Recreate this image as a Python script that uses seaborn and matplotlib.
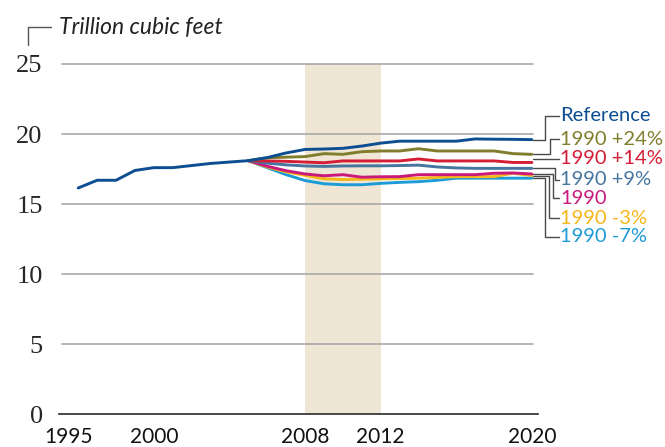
import numpy as np
import pandas as pd
import matplotlib
matplotlib.use("Agg")
import matplotlib.pyplot as plt
import matplotlib.transforms as mtransforms
from matplotlib.lines import Line2D
import seaborn as sns

sns.set_style("white")

# --- data ---
ref_years = list(range(1996, 2021))
reference = [16.15, 16.7, 16.7, 17.4, 17.6, 17.6, 17.75, 17.9, 18.0, 18.1,
             18.32, 18.65, 18.9, 18.93, 18.98, 19.14, 19.35, 19.49, 19.49,
             19.49, 19.49, 19.65, 19.63, 19.62, 19.6]

case_years = list(range(2005, 2021))
plus24 = [18.1, 18.3, 18.35, 18.39, 18.6, 18.55, 18.74, 18.79, 18.79, 18.95,
          18.79, 18.79, 18.79, 18.79, 18.6, 18.55]
plus14 = [18.1, 18.08, 18.05, 18.0, 17.95, 18.08, 18.08, 18.08, 18.08, 18.22,
          18.08, 18.08, 18.08, 18.08, 17.97, 17.97]
plus9 = [18.1, 17.92, 17.8, 17.72, 17.69, 17.72, 17.73, 17.73, 17.75, 17.78,
         17.65, 17.58, 17.55, 17.55, 17.55, 17.55]
level1990 = [18.1, 17.7, 17.38, 17.15, 17.02, 17.1, 16.92, 16.95, 16.96, 17.1,
             17.1, 17.1, 17.1, 17.2, 17.22, 17.15]
minus3 = [18.1, 17.65, 17.3, 17.05, 16.8, 16.75, 16.78, 16.8, 16.82, 16.85,
          16.9, 16.96, 16.96, 16.96, 17.2, 17.04]
minus7 = [18.1, 17.6, 17.1, 16.68, 16.45, 16.38, 16.38, 16.48, 16.55, 16.6,
          16.7, 16.85, 16.85, 16.85, 16.85, 16.85]

labels = ["Reference", "1990 +24%", "1990 +14%", "1990 +9%", "1990",
          "1990 -3%", "1990 -7%"]
colors = ["#0d4d92", "#807d2c", "#d51d35", "#4675a0", "#c91a7c",
          "#f5b719", "#1c9bd6"]
label_y = [21.29, 19.63, 18.22, 16.75, 15.42, 13.99, 12.68]   # label rows
elbow_x = [2020.70, 2020.96, None, 2021.23, 2021.12, 2020.91, 2020.70]

series = [reference, plus24, plus14, plus9, level1990, minus3, minus7]
frames = [pd.DataFrame({"year": ref_years, "value": reference, "case": labels[0]})]
for lab, vals in zip(labels[1:], series[1:]):
    frames.append(pd.DataFrame({"year": case_years, "value": vals, "case": lab}))
df = pd.concat(frames, ignore_index=True)

fig = plt.figure(figsize=(6.65, 4.47), dpi=100)
ax = fig.add_axes([0.0892, 0.0732, 0.72, 0.7837])

ax.axvspan(2008, 2012, color="#efe6d5", lw=0, zorder=0)
for g in [5, 10, 15, 20, 25]:
    ax.axhline(g, xmin=0.006, xmax=0.9895, color="#a8a8a8", lw=1.2,
               zorder=1, clip_on=False)

# draw lower cases first so the reference sits on top
order = labels[::-1]
sns.lineplot(data=df, x="year", y="value", hue="case", hue_order=order,
             palette=dict(zip(labels, colors)), lw=2.1, legend=False,
             ax=ax, zorder=3)

ax.set_xlim(1995, 2020.33)
ax.set_ylim(0, 25)
ax.set_xlabel("")
ax.set_ylabel("")
for s in ["left", "right", "top"]:
    ax.spines[s].set_visible(False)
ax.spines["bottom"].set_color("#2a2a2a")
ax.spines["bottom"].set_linewidth(1.2)

ax.set_xticks([1995, 2000, 2008, 2012, 2020])
ax.set_xticks(range(1995, 2021), minor=True)
ax.tick_params(axis="x", which="major", direction="in", length=10, width=1.9,
               color="#222222", pad=9, labelsize=15)
ax.tick_params(axis="x", which="minor", direction="in", length=6.5, width=0.8,
               color="#222222")
ax.set_yticks([0, 5, 10, 15, 20, 25])
ax.tick_params(axis="y", length=0, pad=12, labelsize=19)
for t in ax.get_yticklabels():
    t.set_family("Liberation Serif")
for t in ax.get_xticklabels():
    t.set_family("Lato")
    t.set_color("#111111")
first = ax.get_xticklabels()[0]
first.set_transform(first.get_transform() +
                    mtransforms.ScaledTranslation(9 / 100, 0, fig.dpi_scale_trans))

# right-hand labels with bracket connectors
x0, xt = 2020.06, 2021.49
for vals, lab, col, ly, ex in zip(series, labels, colors, label_y, elbow_x):
    end = vals[-1]
    if ex is None:
        xs, ys = [x0, xt - 0.08], [ly, ly]
    else:
        xs, ys = [x0, ex, ex, xt - 0.08], [end, end, ly, ly]
    ax.plot(xs, ys, color="#4a4a4a", lw=1.0, clip_on=False, zorder=2)
    ax.text(xt, ly, lab, color=col, fontsize=14.5, family="Lato",
            va="center", ha="left", clip_on=False)

# unit title with corner bracket
fig.text(59 / 665, 1 - 34 / 447, "Trillion cubic feet", fontsize=16.5,
         family="Lato", style="italic", color="#222222", va="baseline")
fig.add_artist(Line2D([28 / 665, 28 / 665, 51 / 665],
                      [1 - 45 / 447, 1 - 27 / 447, 1 - 27 / 447],
                      color="#555555", lw=1.0))

fig.savefig("out.png", dpi=100)
